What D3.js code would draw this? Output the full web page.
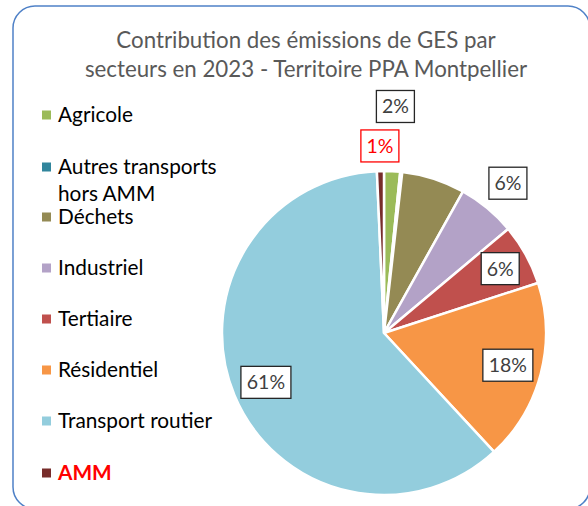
<!DOCTYPE html>
<html><head><meta charset="utf-8">
<script src="https://cdn.jsdelivr.net/npm/d3@7"></script>
<style>body{margin:0;background:#fff;} svg{display:block;}</style>
</head><body>
<svg id="c" width="588" height="506"></svg>
<script>
const categories = ["Agricole","Autres transports hors AMM","Déchets","Industriel","Tertiaire","Résidentiel","Transport routier","AMM"];
const values = [1.6, 0.2, 6.3, 5.8, 6.1, 18.1, 61.2, 0.7];
const labels = ["2%", null, null, "6%", "6%", "18%", "61%", "1%"];
const colors = ["#9BBB59","#31859C","#948A54","#B3A2C7","#C0504D","#F79646","#93CDDD","#772C2A"];
const legendLines = [["Agricole"],["Autres transports","hors AMM"],["Déchets"],["Industriel"],["Tertiaire"],["Résidentiel"],["Transport routier"],["AMM"]];
const titleLines = ["Contribution des émissions de GES par","secteurs en 2023 - Territoire PPA Montpellier"];

const svg = d3.select("#c");
const FONT = "Lato, 'Open Sans', sans-serif";

// frame
svg.append("rect").attr("x",13).attr("y",6).attr("width",577).attr("height",503)
  .attr("rx",22).attr("ry",22).attr("fill","#fff").attr("stroke","#4F81C7").attr("stroke-width",1.5);

// title
titleLines.forEach((t,i)=>{
  svg.append("text").attr("x",306).attr("y",48+i*29).attr("text-anchor","middle")
    .attr("font-family",FONT).attr("font-size",22.3).attr("fill","#595959").text(t);
});

// pie
const cx=384, cy=333, R=162;
const pie = d3.pie().sort(null).value(d=>d)(values);
const arc = d3.arc().innerRadius(0).outerRadius(R);
const g = svg.append("g").attr("transform",`translate(${cx},${cy})`);
g.selectAll("path").data(pie).join("path")
  .attr("d",arc).attr("fill",(d,i)=>colors[i])
  .attr("stroke","#fff").attr("stroke-width",2.5).attr("stroke-linejoin","round");

// data labels
const labelRadius = [1.4, 1, 1, 1.2, 0.82, 0.79, 0.79, 1.155];
pie.forEach((d,i)=>{
  if(!labels[i]) return;
  const a = (d.startAngle+d.endAngle)/2;
  const r = R*labelRadius[i];
  const x = cx + Math.sin(a)*r, y = cy - Math.cos(a)*r;
  const red = categories[i]==="AMM";
  const w = labels[i].length>2 ? 50 : 38, h = 32;
  svg.append("rect").attr("x",x-w/2).attr("y",y-h/2).attr("width",w).attr("height",h)
    .attr("fill","#fff").attr("stroke",red?"#FF0000":"#262626").attr("stroke-width",1.3);
  svg.append("text").attr("x",x).attr("y",y+7).attr("text-anchor","middle")
    .attr("font-family",FONT).attr("font-size",19.5).attr("fill",red?"#FF0000":"#404040").text(labels[i]);
});

// legend
const legendY = [115,167,217,268,319,370,421,473];
categories.forEach((c,i)=>{
  const y = legendY[i];
  svg.append("rect").attr("x",42).attr("y",y-4.5).attr("width",9).attr("height",9).attr("fill",colors[i]);
  legendLines[i].forEach((t,j)=>{
    const red = c==="AMM";
    svg.append("text").attr("x",58).attr("y",y+7+j*27)
      .attr("font-family",FONT).attr("font-size",20.8)
      .attr("font-weight",red?"bold":"normal")
      .attr("fill",red?"#FF0000":"#000").text(t);
  });
});
</script>
</body></html>
